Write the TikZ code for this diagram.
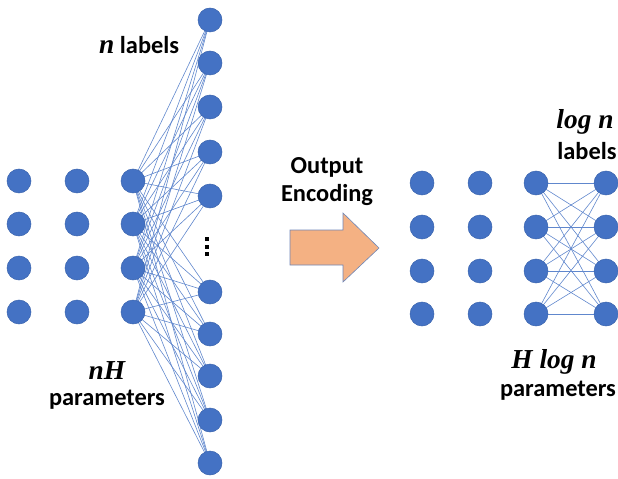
\documentclass[tikz,border=0pt]{standalone}
\usepackage{fontspec}
\setmainfont{Carlito}
\newfontfamily\mathfnt{Liberation Serif}
\newcommand{\mvar}[1]{{\mathfnt\bfseries\itshape\fontsize{27.5}{28}\selectfont #1}}
\definecolor{nblue}{HTML}{4472C4}
\definecolor{nedge}{HTML}{3A64AE}
\definecolor{aorange}{HTML}{F4B183}
\definecolor{aedge}{HTML}{6E86B8}
\begin{document}
\begin{tikzpicture}[x=1bp,y=-1bp,
  neuron/.style={circle,fill=nblue,draw=nedge,line width=0.5bp,minimum size=24bp,inner sep=0pt},
  conn/.style={draw=nblue!85,line width=0.6bp},
  lbl/.style={font=\bfseries\fontsize{24.5}{28}\selectfont,align=center,inner sep=0pt},
  vdot/.style={fill=black,inner sep=0pt,minimum size=3.2bp,rectangle}]
\useasboundingbox (0,0) rectangle (618,479);
% left network
\foreach \c/\x in {1/19,2/77,3/133}{
  \foreach \r/\y in {1/181,2/224,3/268,4/312}{
    \coordinate (Lp\c\r) at (\x,\y);
  }
}
\foreach \o/\y in {1/20,2/63,3/107,4/152,5/196,6/292,7/334,8/376,9/420,10/463}{
  \coordinate (Op\o) at (210,\y);
}
\foreach \r in {1,...,4}{
  \foreach \o in {1,...,10}{
    \draw[conn] (Lp3\r) -- (Op\o);
  }
}
\foreach \c in {1,2,3}{\foreach \r in {1,...,4}{\node[neuron] (L\c\r) at (Lp\c\r) {};}}
\foreach \o in {1,...,10}{\node[neuron] (O\o) at (Op\o) {};}
\node[vdot] (d1) at (207,239) {};
\node[vdot] (d2) at (207,247) {};
\node[vdot] (d3) at (207,254) {};
% left labels
\node[lbl,anchor=west] (nl) at (99,45) {\mvar{n} labels};
\node[lbl] (nh) at (107,371) {\mvar{nH}};
\node[lbl] (np) at (107,400) {parameters};
% arrow
\draw[fill=aorange,draw=aedge,line width=0.6bp] (290,230) -- (343,230) -- (343,213) -- (379,248) -- (343,282) -- (343,265) -- (290,265) -- cycle;
\node[lbl] (oe1) at (327,167) {Output};
\node[lbl] (oe2) at (327,195) {Encoding};
% right network
\foreach \c/\x in {1/422,2/480,3/536,4/606}{
  \foreach \r/\y in {1/183,2/227,3/271,4/314}{
    \coordinate (Rp\c\r) at (\x,\y);
  }
}
\foreach \a in {1,...,4}{\foreach \b in {1,...,4}{\draw[conn] (Rp3\a) -- (Rp4\b);}}
\foreach \c in {1,...,4}{\foreach \r in {1,...,4}{\node[neuron] (R\c\r) at (Rp\c\r) {};}}
% right labels
\node[lbl] (ln) at (585,122) {\mvar{log n}};
\node[lbl] (ll) at (587,151) {labels};
\node[lbl] (hl) at (554,362) {\mvar{H log n}};
\node[lbl] (hp) at (558,391) {parameters};
\end{tikzpicture}
\end{document}
